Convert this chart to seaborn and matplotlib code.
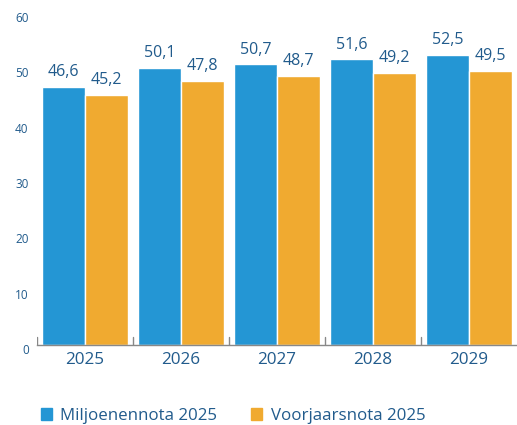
import pandas as pd
import seaborn as sns
import matplotlib.pyplot as plt
import matplotlib.transforms as mtransforms

years = ['2025', '2026', '2027', '2028', '2029']
miljoenennota = [46.6, 50.1, 50.7, 51.6, 52.5]
voorjaarsnota = [45.2, 47.8, 48.7, 49.2, 49.5]
series = ['Miljoenennota 2025', 'Voorjaarsnota 2025']

df = pd.DataFrame({
    'jaar': years * 2,
    'waarde': miljoenennota + voorjaarsnota,
    'reeks': [series[0]] * 5 + [series[1]] * 5,
})

text_color = '#215b8c'
palette = {series[0]: '#2496d4', series[1]: '#f0aa30'}

sns.set_style('white')
plt.rcParams['font.family'] = ['Open Sans', 'DejaVu Sans']

fig = plt.figure(figsize=(5.17, 4.25), dpi=100)
ax = fig.add_axes([37 / 517, 80 / 425, 480 / 517, 332 / 425])

sns.barplot(data=df, x='jaar', y='waarde', hue='reeks', palette=palette,
            width=0.9, saturation=1, edgecolor='white', linewidth=1,
            ax=ax, legend=False)

for container in ax.containers:
    labels = [f'{v:.1f}'.replace('.', ',') for v in container.datavalues]
    ax.bar_label(container, labels=labels, padding=5, fontsize=11.5, color=text_color)

ax.set_ylim(0, 60)
ax.set_xlim(-0.5, 4.5)
ax.set_yticks(range(0, 61, 10))
ax.set_xlabel('')
ax.set_ylabel('')
ax.tick_params(axis='y', length=0, labelsize=8.5, colors=text_color, pad=6)
ax.tick_params(axis='x', length=0, labelsize=12.3, colors=text_color, pad=5)

# y-labels staan iets onder hun waarde
offset = mtransforms.ScaledTranslation(0, -4 / 100, fig.dpi_scale_trans)
for lab in ax.get_yticklabels():
    lab.set_transform(lab.get_transform() + offset)

for s in ['top', 'right', 'left']:
    ax.spines[s].set_visible(False)
ax.spines['bottom'].set_color('#888888')
ax.spines['bottom'].set_linewidth(1)

# kleine scheidingsstreepjes tussen de jaren
for b in [-0.5, 0.5, 1.5, 2.5, 3.5]:
    ax.plot([b, b], [0, 1.5], color='#888888', lw=1, zorder=0.5)

handles = [plt.Rectangle((0, 0), 1, 1, color=palette[s]) for s in series]
fig.legend(handles, series, loc='center left', bbox_to_anchor=(41 / 517, 9 / 425),
           ncol=2, frameon=False, fontsize=12.2, borderpad=0, borderaxespad=0,
           handlelength=0.65, handleheight=0.65, handletextpad=0.5,
           columnspacing=2.0, labelcolor=text_color)

fig.savefig('out.png', dpi=100)
